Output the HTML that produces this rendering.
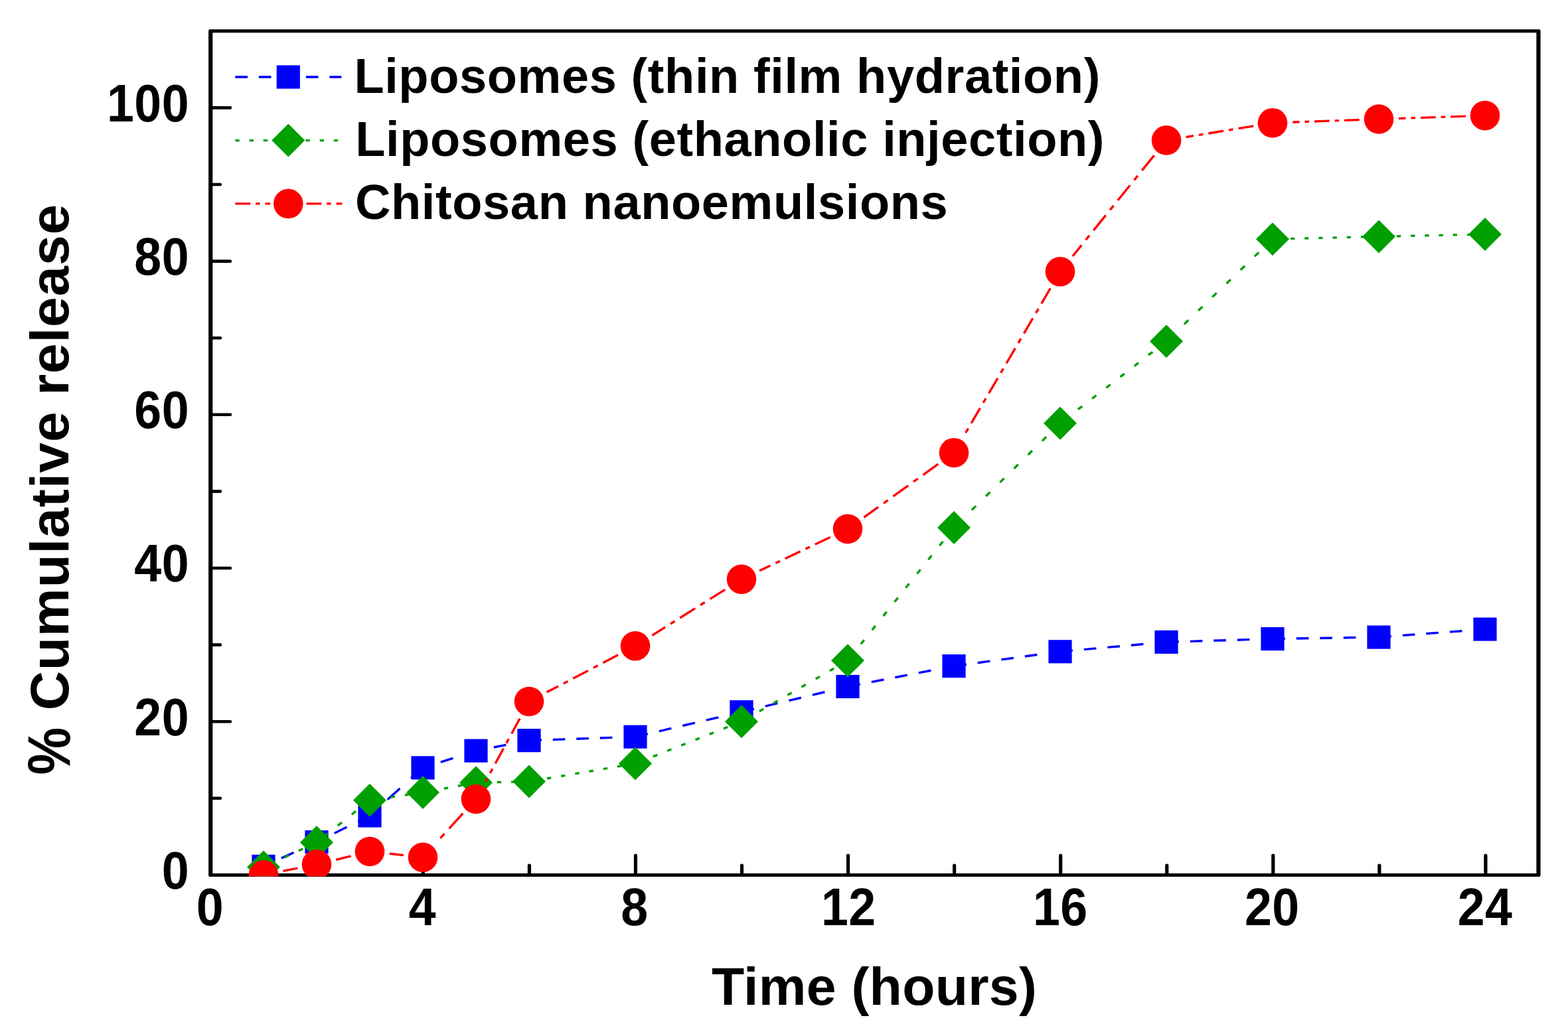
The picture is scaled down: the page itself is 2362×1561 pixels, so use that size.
<!DOCTYPE html>
<html lang="en"><head><meta charset="utf-8"><title>% Cumulative release vs Time (hours)</title>
<style>html,body{margin:0;padding:0;background:#fff}body{width:2362px;height:1561px;overflow:hidden}svg{display:block}text{font-family:'Liberation Sans', sans-serif;font-weight:700;fill:#000}</style></head><body>
<svg role="img" aria-label="Line chart of percent cumulative release versus time in hours for three formulations" width="2362" height="1561" viewBox="0 0 2362 1561">
<rect width="2362" height="1561" fill="#fff"/>
<defs><clipPath id="plot"><rect x="313.95" y="43.55" width="2006.8" height="1277.05"/></clipPath></defs>
<path fill="#000" fill-rule="evenodd" d="M316.3 44.3H2318.4Q2320.6 44.3 2320.6 46.5V1318.7Q2320.6 1320.9 2318.4 1320.9H316.3Q314.1 1320.9 314.1 1318.7V46.5Q314.1 44.3 316.3 44.3Z M320.3 49.3V1315.9H2314.4V49.3Z"/>
<g fill="none" stroke="#000" stroke-linecap="round">
<path d="M477.26 1317.7V1304M637.32 1317.7V1289M797.38 1317.7V1304M957.44 1317.7V1289M1117.5 1317.7V1304M1277.56 1317.7V1289M1437.62 1317.7V1304M1597.68 1317.7V1289M1757.74 1317.7V1304M1917.8 1317.7V1289M2077.86 1317.7V1304M2237.92 1317.7V1289" stroke-width="5.2"/>
<path d="M317.2 1202.8H331.9M317.2 1087.2H346.9M317.2 971.6H331.9M317.2 856H346.9M317.2 740.4H331.9M317.2 624.8H346.9M317.2 509.2H331.9M317.2 393.6H346.9M317.2 278H331.9M317.2 162.4H346.9" stroke-width="4.6"/>
</g>
<text transform="translate(285.1 1338.8) scale(1 1.08)" font-size="73.5" text-anchor="end" letter-spacing="0.5">0</text>
<text transform="translate(285.1 1107.6) scale(1 1.08)" font-size="73.5" text-anchor="end" letter-spacing="0.5">20</text>
<text transform="translate(285.1 876.4) scale(1 1.08)" font-size="73.5" text-anchor="end" letter-spacing="0.5">40</text>
<text transform="translate(285.1 645.2) scale(1 1.08)" font-size="73.5" text-anchor="end" letter-spacing="0.5">60</text>
<text transform="translate(285.1 414) scale(1 1.08)" font-size="73.5" text-anchor="end" letter-spacing="0.5">80</text>
<text transform="translate(285.1 182.8) scale(1 1.08)" font-size="73.5" text-anchor="end" letter-spacing="0.5">100</text>
<text transform="translate(316.5 1393.7) scale(1 1.08)" font-size="73.5" text-anchor="middle" letter-spacing="0.5">0</text>
<text transform="translate(636.32 1393.7) scale(1 1.08)" font-size="73.5" text-anchor="middle" letter-spacing="0.5">4</text>
<text transform="translate(955.94 1393.7) scale(1 1.08)" font-size="73.5" text-anchor="middle" letter-spacing="0.5">8</text>
<text transform="translate(1278.36 1393.7) scale(1 1.08)" font-size="73.5" text-anchor="middle" letter-spacing="0.5">12</text>
<text transform="translate(1597.28 1393.7) scale(1 1.08)" font-size="73.5" text-anchor="middle" letter-spacing="0.5">16</text>
<text transform="translate(1916.3 1393.7) scale(1 1.08)" font-size="73.5" text-anchor="middle" letter-spacing="0.5">20</text>
<text transform="translate(2237.12 1393.7) scale(1 1.08)" font-size="73.5" text-anchor="middle" letter-spacing="0.5">24</text>
<text transform="translate(1072 1513.6)" font-size="80.6" letter-spacing="0.29">Time (hours)</text>
<text transform="translate(105 1167.6) rotate(-90) scale(1 1.12)" font-size="80.5" font-weight="400">% </text>
<text transform="translate(102.6 1070.2) rotate(-90)" font-size="82" letter-spacing="0.87">Cumulative release</text>
<g clip-path="url(#plot)">
<path d="M460.09 1276.54L459.3 1276.9M442.4 1284.63L423.8 1293.14M406.9 1300.87L397 1305.4M540.35 1237.28L539.3 1237.81M522.4 1246.21L503.8 1255.47M486.9 1263.87L477 1268.8M623.18 1169.35L619.3 1172.85M602.4 1188.08L583.8 1204.85M566.9 1220.08L557 1229M682.4 1142.32L663.8 1148.29M646.9 1153.72L637 1156.9M762.4 1122.4L743.8 1126.01M726.9 1129.28L717 1131.2M922.4 1111.39L903.8 1112.03M886.9 1112.61L868.3 1113.25M851.4 1113.83L832.8 1114.47M815.9 1115.05L797.3 1115.69M1082.4 1080.81L1063.8 1085.17M1046.9 1089.13L1028.3 1093.49M1011.4 1097.45L992.8 1101.81M975.9 1105.77L957.3 1110.13M1242.4 1042.76L1223.8 1047.2M1206.9 1051.24L1188.3 1055.68M1171.4 1059.71L1152.8 1064.15M1135.9 1068.19L1117.3 1072.63M1402.4 1010.28L1383.8 1013.87M1366.9 1017.14L1348.3 1020.73M1331.4 1023.99L1312.8 1027.59M1295.9 1030.85L1277.3 1034.44M1562.4 986.51L1543.8 989.05M1526.9 991.35L1508.3 993.89M1491.4 996.19L1472.8 998.72M1455.9 1001.02L1437.3 1003.56M1722.4 970.51L1703.8 972.19M1686.9 973.71L1668.3 975.38M1651.4 976.9L1632.8 978.58M1615.9 980.1L1597.3 981.77M1882.4 963.64L1863.8 964.2M1846.9 964.7L1828.3 965.26M1811.4 965.77L1792.8 966.33M1775.9 966.83L1757.3 967.39M2042.4 960.64L2023.8 960.93M2006.9 961.2L1988.3 961.49M1971.4 961.75L1952.8 962.04M1935.9 962.3L1917.3 962.6M2202.4 950.7L2183.8 952.09M2166.9 953.36L2148.3 954.75M2131.4 956.02L2112.8 957.42M2095.9 958.68L2077.3 960.08" fill="none" stroke="#0000ff" stroke-width="3.4"/>
<g fill="#0000ff"><rect x="379.4" y="1287.8" width="35.2" height="35.2"/><rect x="459.4" y="1251.2" width="35.2" height="35.2"/><rect x="539.4" y="1211.4" width="35.2" height="35.2"/><rect x="619.4" y="1139.3" width="35.2" height="35.2"/><rect x="699.4" y="1113.6" width="35.2" height="35.2"/><rect x="779.4" y="1098.1" width="35.2" height="35.2"/><rect x="939.4" y="1092.6" width="35.2" height="35.2"/><rect x="1099.4" y="1055.1" width="35.2" height="35.2"/><rect x="1259.4" y="1016.9" width="35.2" height="35.2"/><rect x="1419.4" y="986" width="35.2" height="35.2"/><rect x="1579.4" y="964.2" width="35.2" height="35.2"/><rect x="1739.4" y="949.8" width="35.2" height="35.2"/><rect x="1899.4" y="945" width="35.2" height="35.2"/><rect x="2059.4" y="942.5" width="35.2" height="35.2"/><rect x="2219.4" y="930.5" width="35.2" height="35.2"/></g>
<path d="M477 1269.3L471.1 1272.04M456.2 1278.97L449.9 1281.9M435 1288.83L428.7 1291.76M413.8 1298.69L407.5 1301.62M557 1205.7L551.1 1210.39M536.2 1222.24L529.9 1227.24M515 1239.09L508.7 1244.1M493.8 1255.94L487.5 1260.95M637 1194L631.1 1194.86M616.2 1197.04L609.9 1197.96M595 1200.14L588.7 1201.06M573.8 1203.24L567.5 1204.16M717 1179.2L711.1 1180.29M696.2 1183.05L689.9 1184.21M675 1186.97L668.7 1188.14M653.8 1190.89L647.5 1192.06M797 1177.6L791.1 1177.72M776.2 1178.02L769.9 1178.14M755 1178.44L748.7 1178.57M733.8 1178.86L727.5 1178.99M957 1150.5L951.1 1151.5M936.2 1154.02L929.9 1155.09M915 1157.61L908.7 1158.68M893.8 1161.2L887.5 1162.27M872.6 1164.8L866.3 1165.86M851.4 1168.39L845.1 1169.45M830.2 1171.98L823.9 1173.04M809 1175.57L802.7 1176.63M1117 1087.2L1111.1 1089.53M1096.2 1095.43L1089.9 1097.92M1075 1103.82L1068.7 1106.31M1053.8 1112.2L1047.5 1114.7M1032.6 1120.59L1026.3 1123.08M1011.4 1128.98L1005.1 1131.47M990.2 1137.37L983.9 1139.86M969 1145.75L962.7 1148.24M1277 995.2L1271.1 998.59M1256.2 1007.16L1249.9 1010.78M1235 1019.35L1228.7 1022.97M1213.8 1031.54L1207.5 1035.16M1192.6 1043.73L1186.3 1047.35M1171.4 1055.92L1165.1 1059.54M1150.2 1068.11L1143.9 1071.73M1129 1080.3L1122.7 1083.92M1437 795L1432.28 800.9M1420.38 815.8L1415.34 822.1M1403.43 837L1398.4 843.3M1386.49 858.2L1381.46 864.5M1369.55 879.4L1364.51 885.7M1352.6 900.6L1347.57 906.9M1335.66 921.8L1330.63 928.1M1318.72 943L1313.68 949.3M1301.78 964.2L1296.74 970.5M1284.83 985.4L1279.8 991.7M1597 637.7L1591.1 643.5M1576.2 658.15L1569.9 664.34M1555 678.99L1548.7 685.18M1533.8 699.83L1527.5 706.03M1512.6 720.68L1506.3 726.87M1491.4 741.52L1485.1 747.71M1470.2 762.36L1463.9 768.55M1449 783.2L1442.7 789.4M1757 514.3L1751.1 518.85M1736.2 530.34L1729.9 535.2M1715 546.69L1708.7 551.55M1693.8 563.04L1687.5 567.9M1672.6 579.39L1666.3 584.25M1651.4 595.74L1645.1 600.6M1630.2 612.09L1623.9 616.95M1609 628.45L1602.7 633.3M1917 360.3L1911.1 365.98M1896.2 380.32L1889.9 386.38M1875 400.73L1868.7 406.79M1853.8 421.13L1847.5 427.19M1832.6 441.53L1826.3 447.6M1811.4 461.94L1805.1 468M1790.2 482.34L1783.9 488.41M1769 502.75L1762.7 508.81M2077 356.4L2071.1 356.54M2056.2 356.91L2049.9 357.06M2035 357.42L2028.7 357.58M2013.8 357.94L2007.5 358.09M1992.6 358.46L1986.3 358.61M1971.4 358.97L1965.1 359.13M1950.2 359.49L1943.9 359.64M1929 360.01L1922.7 360.16M2237 353L2231.1 353.13M2216.2 353.44L2209.9 353.58M2195 353.89L2188.7 354.03M2173.8 354.34L2167.5 354.48M2152.6 354.79L2146.3 354.93M2131.4 355.24L2125.1 355.38M2110.2 355.69L2103.9 355.83M2089 356.14L2082.7 356.28" fill="none" stroke="#00a000" stroke-width="3.4"/>
<g fill="#00a000"><path d="M397 1281.5L422 1306.5L397 1331.5L372 1306.5Z"/><path d="M477 1244.3L502 1269.3L477 1294.3L452 1269.3Z"/><path d="M557 1180.7L582 1205.7L557 1230.7L532 1205.7Z"/><path d="M637 1169L662 1194L637 1219L612 1194Z"/><path d="M717 1154.2L742 1179.2L717 1204.2L692 1179.2Z"/><path d="M797 1152.6L822 1177.6L797 1202.6L772 1177.6Z"/><path d="M957 1125.5L982 1150.5L957 1175.5L932 1150.5Z"/><path d="M1117 1062.2L1142 1087.2L1117 1112.2L1092 1087.2Z"/><path d="M1277 970.2L1302 995.2L1277 1020.2L1252 995.2Z"/><path d="M1437 770L1462 795L1437 820L1412 795Z"/><path d="M1597 612.7L1622 637.7L1597 662.7L1572 637.7Z"/><path d="M1757 489.3L1782 514.3L1757 539.3L1732 514.3Z"/><path d="M1917 335.3L1942 360.3L1917 385.3L1892 360.3Z"/><path d="M2077 331.4L2102 356.4L2077 381.4L2052 356.4Z"/><path d="M2237 328L2262 353L2237 378L2212 353Z"/></g>
<path d="M448.36 1308.09L426.42 1312.45M528.62 1289.88L506.15 1295.33M607.98 1288.61L586.82 1286.28M697.33 1225.58L676.56 1248.38M669.45 1256.18L663.44 1262.78M783.04 1082.65L770.63 1105.45M766.39 1113.25L762.8 1119.85M758.5 1127.75L746.09 1150.55M741.84 1158.35L738.25 1164.95M733.95 1172.85L731.34 1177.65M931.13 986.84L908.33 998.76M900.53 1002.84L893.93 1006.3M886.03 1010.43L863.23 1022.36M855.43 1026.44L848.83 1029.89M840.93 1034.02L823.58 1043.09M1092.27 888.33L1069.47 902.65M1061.67 907.55L1055.07 911.7M1047.17 916.66L1024.37 930.98M1016.57 935.88L1009.97 940.03M1002.07 944.99L982.4 957.34M1250.61 809.5L1227.81 820.3M1220.01 824L1213.41 827.13M1205.51 830.87L1182.71 841.67M1174.91 845.36L1168.31 848.49M1160.41 852.23L1144.11 859.96M1413.28 699.22L1390.48 715.58M1382.68 721.18L1376.08 725.91M1368.18 731.58L1345.38 747.94M1337.58 753.54L1330.98 758.27M1323.08 763.94L1301.37 779.51M1582.23 434.49L1568.86 457.29M1564.29 465.09L1560.42 471.69M1555.79 479.59L1542.42 502.39M1537.85 510.19L1533.98 516.79M1529.35 524.69L1515.98 547.49M1511.41 555.29L1507.54 561.89M1502.91 569.79L1489.54 592.59M1484.96 600.39L1481.1 606.99M1476.46 614.89L1463.1 637.69M1458.52 645.49L1454.65 652.09M1738.64 234.11L1720.21 256.91M1713.9 264.71L1708.57 271.31M1702.18 279.21L1683.75 302.01M1677.44 309.81L1672.1 316.41M1665.72 324.31L1647.28 347.11M1640.98 354.91L1635.64 361.51M1629.25 369.41L1615.86 385.97M1888.18 189.92L1865.38 193.65M1857.58 194.93L1850.98 196.01M1843.08 197.3L1820.28 201.04M1812.48 202.31L1805.88 203.4M1797.98 204.69L1786.61 206.55M2047.82 180.54L2025.02 181.35M2017.22 181.63L2010.62 181.86M2002.72 182.15L1979.92 182.96M1972.12 183.24L1965.52 183.47M1957.62 183.75L1946.98 184.13M2207.82 175.08L2185.02 175.85M2177.22 176.12L2170.62 176.34M2162.72 176.61L2139.92 177.38M2132.12 177.64L2125.52 177.86M2117.62 178.13L2106.98 178.49" fill="none" stroke="#ff0000" stroke-width="3.4"/>
<g fill="#ff0000"><circle cx="397" cy="1318.3" r="22.3"/><circle cx="477" cy="1302.4" r="22.3"/><circle cx="557" cy="1283" r="22.3"/><circle cx="637" cy="1291.8" r="22.3"/><circle cx="717" cy="1204" r="22.3"/><circle cx="797" cy="1057" r="22.3"/><circle cx="957" cy="973.3" r="22.3"/><circle cx="1117" cy="872.8" r="22.3"/><circle cx="1277" cy="797" r="22.3"/><circle cx="1437" cy="682.2" r="22.3"/><circle cx="1597" cy="409.3" r="22.3"/><circle cx="1757" cy="211.4" r="22.3"/><circle cx="1917" cy="185.2" r="22.3"/><circle cx="2077" cy="179.5" r="22.3"/><circle cx="2237" cy="174.1" r="22.3"/></g>
</g>
<g fill="none" stroke-width="3.4">
<path d="M354.4 116H373M389.9 116H408.5M425.4 116H444M460.9 116H479.5M496.4 116H514.4" stroke="#0000ff"/>
<path d="M354.4 211.6H360.7M375.6 211.6H381.9M396.8 211.6H403.1M418 211.6H424.3M439.2 211.6H445.5M460.4 211.6H466.7M481.6 211.6H487.9M502.8 211.6H509.1" stroke="#00a000"/>
<path d="M354.4 306.9H377.2M385 306.9H391.6M399.5 306.9H407.1M461.5 306.9H484.3M492.1 306.9H498.7M506.6 306.9H515.4" stroke="#ff0000"/>
</g>
<g fill="#0000ff"><rect x="416.7" y="98.4" width="35.2" height="35.2"/></g>
<g fill="#00a000"><path d="M434.3 186.6L459.3 211.6L434.3 236.6L409.3 211.6Z"/></g>
<g fill="#ff0000"><circle cx="434.3" cy="306.9" r="22.3"/></g>
<text transform="translate(533.4 140)" font-size="74" letter-spacing="0.6">Liposomes (thin film hydration)</text>
<text transform="translate(535.3 235.3)" font-size="74" letter-spacing="0.6">Liposomes (ethanolic injection)</text>
<text transform="translate(535 330)" font-size="74" letter-spacing="0.61">Chitosan nanoemulsions</text>
</svg></body></html>
